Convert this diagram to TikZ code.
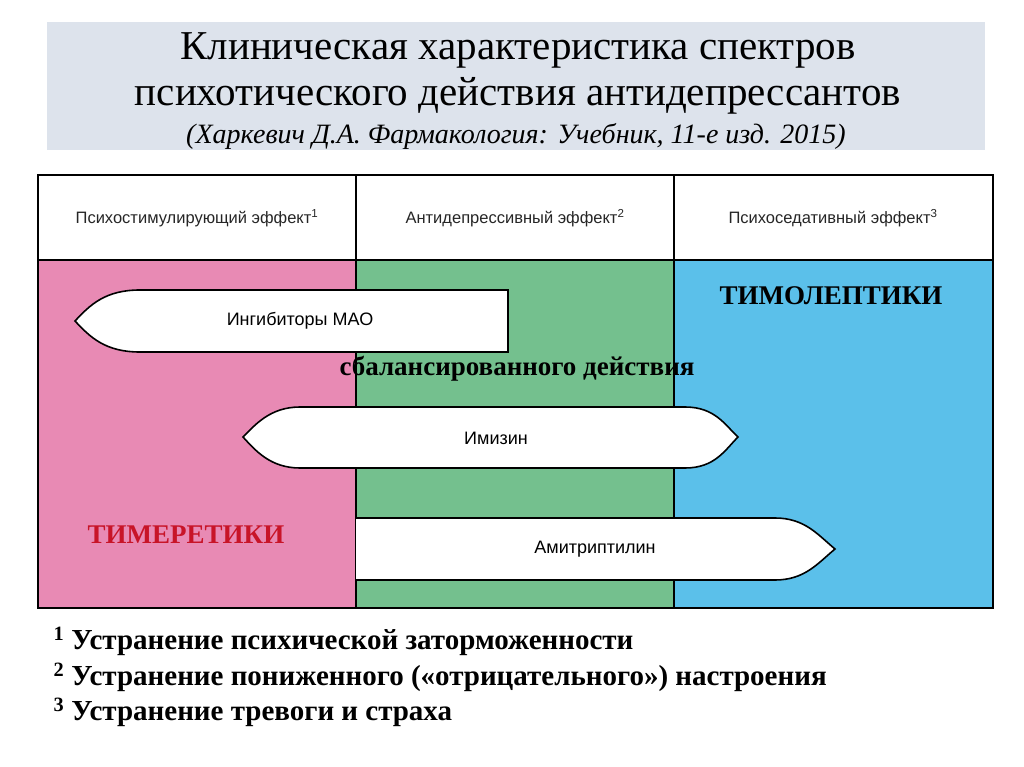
\documentclass[tikz,border=0pt]{standalone}
\usepackage{fontspec}
\setmainfont{Liberation Serif}
\newfontfamily\hsans{Liberation Sans}
\begin{document}
\begin{tikzpicture}[x=1pt,y=-1pt,
  hdr/.style={font=\hsans\fontsize{16.5}{18}\selectfont,text=black!85},
  lbl/.style={font=\hsans\fontsize{18}{20}\selectfont},
  arr/.style={draw=black,line width=1.6pt,fill=white},
  big/.style={font=\bfseries\fontsize{27}{30}\selectfont},
  foot/.style={font=\bfseries\fontsize{29}{32}\selectfont,anchor=west}]
\useasboundingbox (0,0) rectangle (1024,767);
\fill[white] (0,0) rectangle (1024,767);
\fill[fill={rgb,255:red,221;green,227;blue,236}] (47,22) rectangle (985,150);
\node[font=\fontsize{41}{44}\selectfont] (t1) at (518,50) {Клиническая характеристика спектров};
\node[font=\fontsize{41}{44}\selectfont] (t2) at (518,96) {психотического действия антидепрессантов};
\node[font=\itshape\fontsize{28}{32}\selectfont] (t3) at (516,136) {(Харкевич Д.А. Фармакология: Учебник, 11-е изд. 2015)};
% columns
\fill[fill={rgb,255:red,232;green,138;blue,180}] (38,260) rectangle (356,608);
\fill[fill={rgb,255:red,116;green,192;blue,142}] (356,260) rectangle (674,608);
\fill[fill={rgb,255:red,91;green,192;blue,234}] (674,260) rectangle (993,608);
\draw[line width=1.6pt] (38,175) rectangle (993,608);
\draw[line width=1.6pt] (38,260) -- (993,260);
\draw[line width=1.6pt] (356,175) -- (356,608);
\draw[line width=1.6pt] (674,175) -- (674,608);
\node[hdr] (h1) at (197,218) {Психостимулирующий эффект\textsuperscript{1}};
\node[hdr] (h2) at (515,218) {Антидепрессивный эффект\textsuperscript{2}};
\node[hdr] (h3) at (833,218) {Психоседативный эффект\textsuperscript{3}};
% arrows
\draw[arr] (508,290) -- (140,290) .. controls (105,290) and (90,305) .. (75,321) .. controls (90,337) and (105,352) .. (140,352) -- (508,352) -- cycle;
\node[lbl] (mao) at (300,321) {Ингибиторы МАО};
\draw[arr] (300,407) -- (685,407) .. controls (715,407) and (725,425) .. (738,437) .. controls (725,450) and (715,468) .. (685,468) -- (300,468) .. controls (270,468) and (255,450) .. (243,437) .. controls (255,425) and (270,407) .. (300,407) -- cycle;
\node[lbl] (imi) at (496,438) {Имизин};
\draw[arr] (356,518) -- (775,518) .. controls (805,518) and (818,535) .. (835,549) .. controls (818,563) and (805,580) .. (775,580) -- (356,580);
\node[lbl] (ami) at (595,549) {Амитриптилин};
\node[big] (tl) at (831,296) {ТИМОЛЕПТИКИ};
\node[big] (bal) at (517,369) {сбалансированного действия};
\node[big,text={rgb,255:red,200;green,20;blue,40}] (tr) at (186,535) {ТИМЕРЕТИКИ};
\node[foot] (f1) at (50,641) {\textsuperscript{1} Устранение психической заторможенности};
\node[foot] (f2) at (50,677) {\textsuperscript{2} Устранение пониженного («отрицательного») настроения};
\node[foot] (f3) at (50,712) {\textsuperscript{3} Устранение тревоги и страха};
\end{tikzpicture}
\end{document}
